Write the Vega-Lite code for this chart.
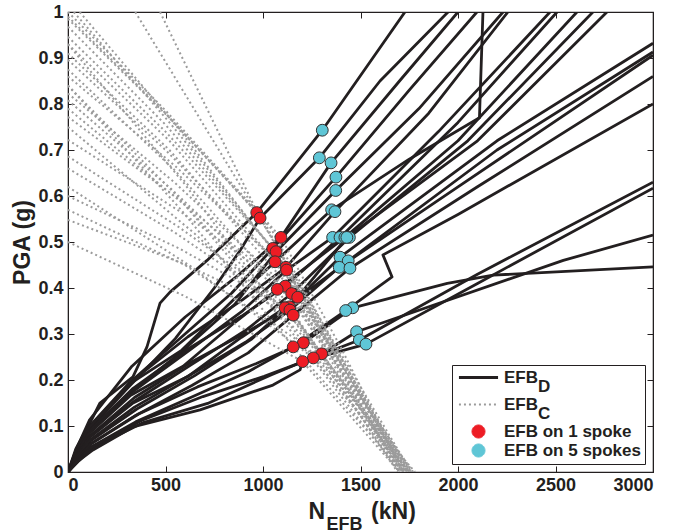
{
  "$schema": "https://vega.github.io/schema/vega-lite/v6.json",
  "width": 585,
  "height": 460,
  "autosize": {"type": "none"},
  "padding": {"left": 68, "top": 12, "right": 22, "bottom": 60},
  "config": {
    "font": "Liberation Sans",
    "view": {"stroke": "#231f20", "strokeWidth": 1.2},
    "axis": {"grid": false, "domainColor": "#231f20", "tickColor": "#231f20", "labelColor": "#231f20", "titleColor": "#231f20", "labelFontSize": 18, "labelFontWeight": "bold", "titleFontWeight": "bold", "labelFont": "Liberation Sans", "titleFont": "Liberation Sans"}
  },
  "datasets": {
    "black": [
      {"c":1,"x":0,"y":0},{"c":1,"x":40,"y":0.05},{"c":1,"x":113,"y":0.107},{"c":1,"x":164,"y":0.15},{"c":1,"x":333,"y":0.207},{"c":1,"x":405,"y":0.272},{"c":1,"x":472,"y":0.367},{"c":1,"x":523,"y":0.391},{"c":1,"x":713,"y":0.46},{"c":1,"x":968,"y":0.564},{"c":1,"x":1304,"y":0.743},{"c":1,"x":1728,"y":1.0},
      {"c":2,"x":0,"y":0},{"c":2,"x":40,"y":0.045},{"c":2,"x":110,"y":0.092},{"c":2,"x":300,"y":0.18},{"c":2,"x":550,"y":0.29},{"c":2,"x":750,"y":0.4},{"c":2,"x":880,"y":0.48},{"c":2,"x":985,"y":0.552},{"c":2,"x":1289,"y":0.683},{"c":2,"x":1600,"y":0.85},{"c":2,"x":1949,"y":1.0},
      {"c":3,"x":0,"y":0},{"c":3,"x":44,"y":0.051},{"c":3,"x":109,"y":0.112},{"c":3,"x":328,"y":0.23},{"c":3,"x":601,"y":0.337},{"c":3,"x":874,"y":0.428},{"c":3,"x":1092,"y":0.51},{"c":3,"x":1349,"y":0.672},{"c":3,"x":1700,"y":0.85},{"c":3,"x":2000,"y":1.0},
      {"c":4,"x":0,"y":0},{"c":4,"x":42,"y":0.044},{"c":4,"x":105,"y":0.097},{"c":4,"x":315,"y":0.194},{"c":4,"x":578,"y":0.292},{"c":4,"x":840,"y":0.389},{"c":4,"x":1050,"y":0.486},{"c":4,"x":1374,"y":0.641},{"c":4,"x":1750,"y":0.83},{"c":4,"x":2097,"y":1.0},
      {"c":5,"x":0,"y":0},{"c":5,"x":43,"y":0.038},{"c":5,"x":107,"y":0.086},{"c":5,"x":320,"y":0.172},{"c":5,"x":587,"y":0.263},{"c":5,"x":854,"y":0.364},{"c":5,"x":1067,"y":0.479},{"c":5,"x":1373,"y":0.612},{"c":5,"x":1800,"y":0.79},{"c":5,"x":2231,"y":1.0},
      {"c":6,"x":0,"y":0},{"c":6,"x":42,"y":0.041},{"c":6,"x":106,"y":0.096},{"c":6,"x":319,"y":0.192},{"c":6,"x":584,"y":0.265},{"c":6,"x":850,"y":0.375},{"c":6,"x":1062,"y":0.457},{"c":6,"x":1352,"y":0.57},{"c":6,"x":1750,"y":0.68},{"c":6,"x":2110,"y":0.77},{"c":6,"x":2128,"y":1.0},
      {"c":7,"x":0,"y":0},{"c":7,"x":45,"y":0.045},{"c":7,"x":112,"y":0.098},{"c":7,"x":335,"y":0.2},{"c":7,"x":615,"y":0.294},{"c":7,"x":894,"y":0.374},{"c":7,"x":1118,"y":0.445},{"c":7,"x":1369,"y":0.566},{"c":7,"x":1850,"y":0.78},{"c":7,"x":2256,"y":1.0},
      {"c":8,"x":0,"y":0},{"c":8,"x":45,"y":0.04},{"c":8,"x":112,"y":0.088},{"c":8,"x":336,"y":0.176},{"c":8,"x":617,"y":0.263},{"c":8,"x":897,"y":0.351},{"c":8,"x":1121,"y":0.439},{"c":8,"x":1357,"y":0.51},{"c":8,"x":1900,"y":0.74},{"c":8,"x":2472,"y":1.0},
      {"c":9,"x":0,"y":0},{"c":9,"x":45,"y":0.04},{"c":9,"x":111,"y":0.089},{"c":9,"x":334,"y":0.182},{"c":9,"x":613,"y":0.267},{"c":9,"x":891,"y":0.339},{"c":9,"x":1114,"y":0.404},{"c":9,"x":1395,"y":0.51},{"c":9,"x":2000,"y":0.76},{"c":9,"x":2508,"y":1.0},
      {"c":10,"x":0,"y":0},{"c":10,"x":43,"y":0.036},{"c":10,"x":107,"y":0.083},{"c":10,"x":322,"y":0.167},{"c":10,"x":590,"y":0.23},{"c":10,"x":858,"y":0.326},{"c":10,"x":1073,"y":0.397},{"c":10,"x":1420,"y":0.51},{"c":10,"x":2000,"y":0.72},{"c":10,"x":2610,"y":1.0},
      {"c":11,"x":0,"y":0},{"c":11,"x":46,"y":0.035},{"c":11,"x":115,"y":0.078},{"c":11,"x":344,"y":0.155},{"c":11,"x":631,"y":0.233},{"c":11,"x":918,"y":0.31},{"c":11,"x":1147,"y":0.388},{"c":11,"x":1443,"y":0.51},{"c":11,"x":2050,"y":0.72},{"c":11,"x":2692,"y":1.0},
      {"c":12,"x":0,"y":0},{"c":12,"x":47,"y":0.03},{"c":12,"x":118,"y":0.068},{"c":12,"x":353,"y":0.137},{"c":12,"x":648,"y":0.209},{"c":12,"x":942,"y":0.289},{"c":12,"x":1178,"y":0.38},{"c":12,"x":1430,"y":0.51},{"c":12,"x":2100,"y":0.72},{"c":12,"x":2764,"y":1.0},
      {"c":13,"x":0,"y":0},{"c":13,"x":45,"y":0.036},{"c":13,"x":114,"y":0.079},{"c":13,"x":341,"y":0.162},{"c":13,"x":624,"y":0.237},{"c":13,"x":908,"y":0.302},{"c":13,"x":1135,"y":0.359},{"c":13,"x":1395,"y":0.467},{"c":13,"x":2200,"y":0.72},{"c":13,"x":3000,"y":0.932},
      {"c":14,"x":0,"y":0},{"c":14,"x":45,"y":0.032},{"c":14,"x":111,"y":0.075},{"c":14,"x":334,"y":0.15},{"c":14,"x":612,"y":0.207},{"c":14,"x":890,"y":0.293},{"c":14,"x":1113,"y":0.357},{"c":14,"x":1437,"y":0.459},{"c":14,"x":2200,"y":0.7},{"c":14,"x":3000,"y":0.913},
      {"c":15,"x":0,"y":0},{"c":15,"x":46,"y":0.032},{"c":15,"x":114,"y":0.07},{"c":15,"x":341,"y":0.141},{"c":15,"x":626,"y":0.211},{"c":15,"x":910,"y":0.282},{"c":15,"x":1138,"y":0.352},{"c":15,"x":1391,"y":0.445},{"c":15,"x":2000,"y":0.62},{"c":15,"x":3000,"y":0.906},
      {"c":16,"x":0,"y":0},{"c":16,"x":46,"y":0.027},{"c":16,"x":116,"y":0.061},{"c":16,"x":347,"y":0.123},{"c":16,"x":635,"y":0.188},{"c":16,"x":924,"y":0.259},{"c":16,"x":1155,"y":0.341},{"c":16,"x":1446,"y":0.443},{"c":16,"x":2100,"y":0.62},{"c":16,"x":3000,"y":0.86},
      {"c":17,"x":0,"y":0},{"c":17,"x":48,"y":0.028},{"c":17,"x":121,"y":0.062},{"c":17,"x":362,"y":0.126},{"c":17,"x":664,"y":0.185},{"c":17,"x":966,"y":0.236},{"c":17,"x":1207,"y":0.281},{"c":17,"x":1460,"y":0.357},{"c":17,"x":1945,"y":0.41},{"c":17,"x":2180,"y":0.428},{"c":17,"x":3000,"y":0.446},
      {"c":18,"x":0,"y":0},{"c":18,"x":46,"y":0.024},{"c":18,"x":116,"y":0.054},{"c":18,"x":347,"y":0.109},{"c":18,"x":635,"y":0.163},{"c":18,"x":924,"y":0.218},{"c":18,"x":1155,"y":0.272},{"c":18,"x":1424,"y":0.351},{"c":18,"x":1662,"y":0.424},{"c":18,"x":1615,"y":0.472},{"c":18,"x":2000,"y":0.56},{"c":18,"x":3000,"y":0.8},
      {"c":19,"x":0,"y":0},{"c":19,"x":52,"y":0.023},{"c":19,"x":130,"y":0.054},{"c":19,"x":390,"y":0.108},{"c":19,"x":716,"y":0.149},{"c":19,"x":1041,"y":0.211},{"c":19,"x":1301,"y":0.257},{"c":19,"x":1480,"y":0.305},{"c":19,"x":2540,"y":0.46},{"c":19,"x":3000,"y":0.515},
      {"c":20,"x":0,"y":0},{"c":20,"x":50,"y":0.025},{"c":20,"x":126,"y":0.055},{"c":20,"x":377,"y":0.112},{"c":20,"x":692,"y":0.164},{"c":20,"x":1006,"y":0.208},{"c":20,"x":1258,"y":0.248},{"c":20,"x":1494,"y":0.287},{"c":20,"x":2100,"y":0.43},{"c":20,"x":3000,"y":0.63},
      {"c":21,"x":0,"y":0},{"c":21,"x":40,"y":0.02},{"c":21,"x":128,"y":0.048},{"c":21,"x":333,"y":0.098},{"c":21,"x":677,"y":0.135},{"c":21,"x":1051,"y":0.189},{"c":21,"x":1190,"y":0.222},{"c":21,"x":1203,"y":0.24},{"c":21,"x":1528,"y":0.278},{"c":21,"x":2100,"y":0.41},{"c":21,"x":3000,"y":0.617}
    ],
    "gray": [
      {"c":1,"x":345,"y":1.0},{"c":1,"x":968,"y":0.564},{"c":1,"x":1740,"y":0},
      {"c":2,"x":472,"y":1.0},{"c":2,"x":985,"y":0.552},{"c":2,"x":1760,"y":0},
      {"c":3,"x":0,"y":1.0},{"c":3,"x":500,"y":0.786},{"c":3,"x":1092,"y":0.51},{"c":3,"x":1400,"y":0.27},{"c":3,"x":1720,"y":0},
      {"c":4,"x":0,"y":0.968},{"c":4,"x":500,"y":0.755},{"c":4,"x":1050,"y":0.486},{"c":4,"x":1700,"y":0},
      {"c":5,"x":0,"y":0.946},{"c":5,"x":500,"y":0.74},{"c":5,"x":1067,"y":0.479},{"c":5,"x":1730,"y":0},
      {"c":6,"x":0,"y":0.896},{"c":6,"x":500,"y":0.7},{"c":6,"x":1062,"y":0.457},{"c":6,"x":1710,"y":0},
      {"c":7,"x":60,"y":1.0},{"c":7,"x":550,"y":0.755},{"c":7,"x":1118,"y":0.445},{"c":7,"x":1750,"y":0},
      {"c":8,"x":0,"y":0.86},{"c":8,"x":550,"y":0.665},{"c":8,"x":1121,"y":0.439},{"c":8,"x":1720,"y":0},
      {"c":9,"x":0,"y":0.823},{"c":9,"x":550,"y":0.628},{"c":9,"x":1114,"y":0.404},{"c":9,"x":1700,"y":0},
      {"c":10,"x":0,"y":0.808},{"c":10,"x":530,"y":0.615},{"c":10,"x":1073,"y":0.397},{"c":10,"x":1690,"y":0},
      {"c":11,"x":0,"y":0.772},{"c":11,"x":570,"y":0.592},{"c":11,"x":1147,"y":0.388},{"c":11,"x":1740,"y":0},
      {"c":12,"x":0,"y":0.722},{"c":12,"x":590,"y":0.562},{"c":12,"x":1178,"y":0.38},{"c":12,"x":1760,"y":0},
      {"c":13,"x":0,"y":0.686},{"c":13,"x":570,"y":0.532},{"c":13,"x":1135,"y":0.359},{"c":13,"x":1720,"y":0},
      {"c":14,"x":0,"y":0.66},{"c":14,"x":550,"y":0.52},{"c":14,"x":1113,"y":0.357},{"c":14,"x":1700,"y":0},
      {"c":15,"x":0,"y":0.6},{"c":15,"x":570,"y":0.486},{"c":15,"x":1138,"y":0.352},{"c":15,"x":1730,"y":0},
      {"c":16,"x":0,"y":0.548},{"c":16,"x":580,"y":0.455},{"c":16,"x":1155,"y":0.341},{"c":16,"x":1750,"y":0},
      {"c":17,"x":0,"y":0.93},{"c":17,"x":600,"y":0.625},{"c":17,"x":1207,"y":0.281},{"c":17,"x":1780,"y":0},
      {"c":18,"x":0,"y":0.84},{"c":18,"x":580,"y":0.57},{"c":18,"x":1155,"y":0.272},{"c":18,"x":1720,"y":0},
      {"c":19,"x":0,"y":0.75},{"c":19,"x":650,"y":0.518},{"c":19,"x":1301,"y":0.257},{"c":19,"x":1760,"y":0},
      {"c":20,"x":0,"y":0.62},{"c":20,"x":630,"y":0.447},{"c":20,"x":1258,"y":0.248},{"c":20,"x":1750,"y":0},
      {"c":21,"x":0,"y":0.5},{"c":21,"x":600,"y":0.382},{"c":21,"x":1203,"y":0.24},{"c":21,"x":1700,"y":0},
      {"c":22,"x":0,"y":0.99},{"c":22,"x":500,"y":0.78},{"c":22,"x":1000,"y":0.55},{"c":22,"x":1300,"y":0.3},{"c":22,"x":1740,"y":0},
      {"c":23,"x":0,"y":0.985},{"c":23,"x":520,"y":0.77},{"c":23,"x":1040,"y":0.53},{"c":23,"x":1720,"y":0},
      {"c":24,"x":30,"y":1.0},{"c":24,"x":520,"y":0.76},{"c":24,"x":1080,"y":0.47},{"c":24,"x":1730,"y":0},
      {"c":25,"x":0,"y":0.93},{"c":25,"x":520,"y":0.72},{"c":25,"x":1100,"y":0.44},{"c":25,"x":1750,"y":0},
      {"c":26,"x":0,"y":0.91},{"c":26,"x":520,"y":0.7},{"c":26,"x":1120,"y":0.41},{"c":26,"x":1710,"y":0},
      {"c":27,"x":0,"y":0.875},{"c":27,"x":550,"y":0.655},{"c":27,"x":1150,"y":0.37},{"c":27,"x":1770,"y":0},
      {"c":28,"x":0,"y":0.84},{"c":28,"x":560,"y":0.6},{"c":28,"x":1100,"y":0.33},{"c":28,"x":1700,"y":0},
      {"c":29,"x":0,"y":0.79},{"c":29,"x":600,"y":0.58},{"c":29,"x":1200,"y":0.31},{"c":29,"x":1740,"y":0},
      {"c":30,"x":0,"y":0.57},{"c":30,"x":600,"y":0.45},{"c":30,"x":1200,"y":0.28},{"c":30,"x":1730,"y":0}
    ],
    "pts": [
      {"s":"EFB on 1 spoke","x":968,"y":0.564},{"s":"EFB on 1 spoke","x":985,"y":0.552},{"s":"EFB on 1 spoke","x":1092,"y":0.51},{"s":"EFB on 1 spoke","x":1050,"y":0.486},{"s":"EFB on 1 spoke","x":1067,"y":0.479},{"s":"EFB on 1 spoke","x":1062,"y":0.457},{"s":"EFB on 1 spoke","x":1118,"y":0.445},{"s":"EFB on 1 spoke","x":1121,"y":0.439},{"s":"EFB on 1 spoke","x":1114,"y":0.404},{"s":"EFB on 1 spoke","x":1073,"y":0.397},{"s":"EFB on 1 spoke","x":1147,"y":0.388},{"s":"EFB on 1 spoke","x":1178,"y":0.38},{"s":"EFB on 1 spoke","x":1135,"y":0.359},{"s":"EFB on 1 spoke","x":1113,"y":0.357},{"s":"EFB on 1 spoke","x":1138,"y":0.352},{"s":"EFB on 1 spoke","x":1155,"y":0.341},{"s":"EFB on 1 spoke","x":1207,"y":0.281},{"s":"EFB on 1 spoke","x":1155,"y":0.272},{"s":"EFB on 1 spoke","x":1301,"y":0.257},{"s":"EFB on 1 spoke","x":1258,"y":0.248},{"s":"EFB on 1 spoke","x":1203,"y":0.24},
      {"s":"EFB on 5 spokes","x":1304,"y":0.743},{"s":"EFB on 5 spokes","x":1289,"y":0.683},{"s":"EFB on 5 spokes","x":1349,"y":0.672},{"s":"EFB on 5 spokes","x":1374,"y":0.641},{"s":"EFB on 5 spokes","x":1373,"y":0.612},{"s":"EFB on 5 spokes","x":1352,"y":0.57},{"s":"EFB on 5 spokes","x":1369,"y":0.566},{"s":"EFB on 5 spokes","x":1357,"y":0.51},{"s":"EFB on 5 spokes","x":1395,"y":0.51},{"s":"EFB on 5 spokes","x":1420,"y":0.51},{"s":"EFB on 5 spokes","x":1443,"y":0.51},{"s":"EFB on 5 spokes","x":1430,"y":0.51},{"s":"EFB on 5 spokes","x":1395,"y":0.467},{"s":"EFB on 5 spokes","x":1437,"y":0.459},{"s":"EFB on 5 spokes","x":1391,"y":0.445},{"s":"EFB on 5 spokes","x":1446,"y":0.443},{"s":"EFB on 5 spokes","x":1460,"y":0.357},{"s":"EFB on 5 spokes","x":1424,"y":0.351},{"s":"EFB on 5 spokes","x":1480,"y":0.305},{"s":"EFB on 5 spokes","x":1494,"y":0.287},{"s":"EFB on 5 spokes","x":1528,"y":0.278}
    ]
  },
  "layer": [
    {
      "encoding": {
        "x": {"field": "x", "type": "quantitative", "scale": {"domain": [0, 3000], "nice": false},
              "axis": {"orient": "bottom", "values": [0,500,1000,1500,2000,2500,3000], "format": "d", "tickSize": -6, "labelPadding": 10,
                       "title": "N\u2003\u2002\u2002(kN)", "titleFontSize": 23, "titleAlign": "left", "titleBaseline": "alphabetic", "titleX": 240, "titleY": 46}},
        "y": {"field": "y", "type": "quantitative", "scale": {"domain": [0, 1], "nice": false},
              "axis": {"orient": "left", "values": [0,0.1,0.2,0.3,0.4,0.5,0.6,0.7,0.8,0.9,1], "format": "~g", "tickSize": -6, "labelPadding": 11,
                       "title": "PGA (g)", "titleFontSize": 23, "titleAngle": -90, "titleAlign": "center", "titleBaseline": "alphabetic", "titleX": -39, "titleY": 230}}
      },
      "layer": [
        {
          "data": {"name": "black"},
          "mark": {"type": "line", "strokeWidth": 2.8, "strokeJoin": "round", "clip": true},
          "encoding": {
            "detail": {"field": "c"},
            "order": {"value": null},
            "color": {"datum": "EFB_D", "type": "nominal", "title": null, "scale": {"domain": ["EFB_D", "EFB_C", "EFB on 1 spoke", "EFB on 5 spokes"], "range": ["#231f20", "#9b9b9b", "#ed1c24", "#5fc6d6"]},
                      "legend": {"orient": "bottom-right", "offset": 8, "title": null, "strokeColor": "#231f20", "fillColor": "white", "padding": 4,
                                 "labelFontSize": 17, "labelFontWeight": "bold", "labelFont": "Liberation Sans", "labelColor": "#231f20", "labelLimit": 400,
                                 "symbolSize": 170, "symbolOffset": 14, "labelOffset": 17, "rowPadding": 0,
                                 "labelExpr": "datum.label == 'EFB_D' ? ['EFB', '\u200B\u2002\u2002\u2002\u2002D'] : datum.label == 'EFB_C' ? ['EFB', '\u200B\u2002\u2002\u2002\u2002C'] : datum.label",
                                 "encode": {
                                   "labels": {"update": {"lineHeight": {"value": 9}}},
                                   "symbols": {"update": {
                                   "shape": {"signal": "datum.value == 'EFB_D' || datum.value == 'EFB_C' ? 'M-3,0H3' : 'circle'"},
                                   "fill": {"signal": "datum.value == 'EFB on 1 spoke' ? '#ed1c24' : datum.value == 'EFB on 5 spokes' ? '#5fc6d6' : 'transparent'"},
                                   "stroke": {"signal": "datum.value == 'EFB_D' ? '#231f20' : datum.value == 'EFB_C' ? '#9b9b9b' : '#333333'"},
                                   "strokeWidth": {"signal": "datum.value == 'EFB_D' ? 3 : datum.value == 'EFB_C' ? 2 : 1"},
                                   "strokeDash": {"signal": "datum.value == 'EFB_C' ? [2, 3] : [1, 0]"},
                                   "opacity": {"value": 1}
                                 }}}}}
          }
        },
        {
          "data": {"name": "gray"},
          "mark": {"type": "line", "strokeWidth": 2, "strokeDash": [2, 3], "clip": true},
          "encoding": {
            "detail": {"field": "c"},
            "order": {"value": null},
            "color": {"datum": "EFB_C", "type": "nominal", "title": null}
          }
        },
        {
          "data": {"name": "pts"},
          "mark": {"type": "point", "filled": true, "size": 140, "opacity": 1, "stroke": "#333333", "strokeWidth": 1},
          "encoding": {
            "color": {"field": "s", "type": "nominal", "title": null}
          }
        }
      ]
    },
    {
      "data": {"name": "pts"},
      "mark": {"type": "point", "opacity": 0},
      "encoding": {
        "x": {"field": "x", "type": "quantitative", "axis": {"orient": "top", "values": [0,500,1000,1500,2000,2500,3000], "labels": false, "tickSize": -6,
              "title": "EFB", "titleFontSize": 18, "titleAlign": "left", "titleBaseline": "alphabetic", "titleX": 258, "titleY": 517}},
        "y": {"field": "y", "type": "quantitative", "axis": {"orient": "right", "values": [0,0.1,0.2,0.3,0.4,0.5,0.6,0.7,0.8,0.9,1], "labels": false, "tickSize": -6, "title": null}}
      }
    }
  ],
  "resolve": {"axis": {"x": "independent", "y": "independent"}}
}
